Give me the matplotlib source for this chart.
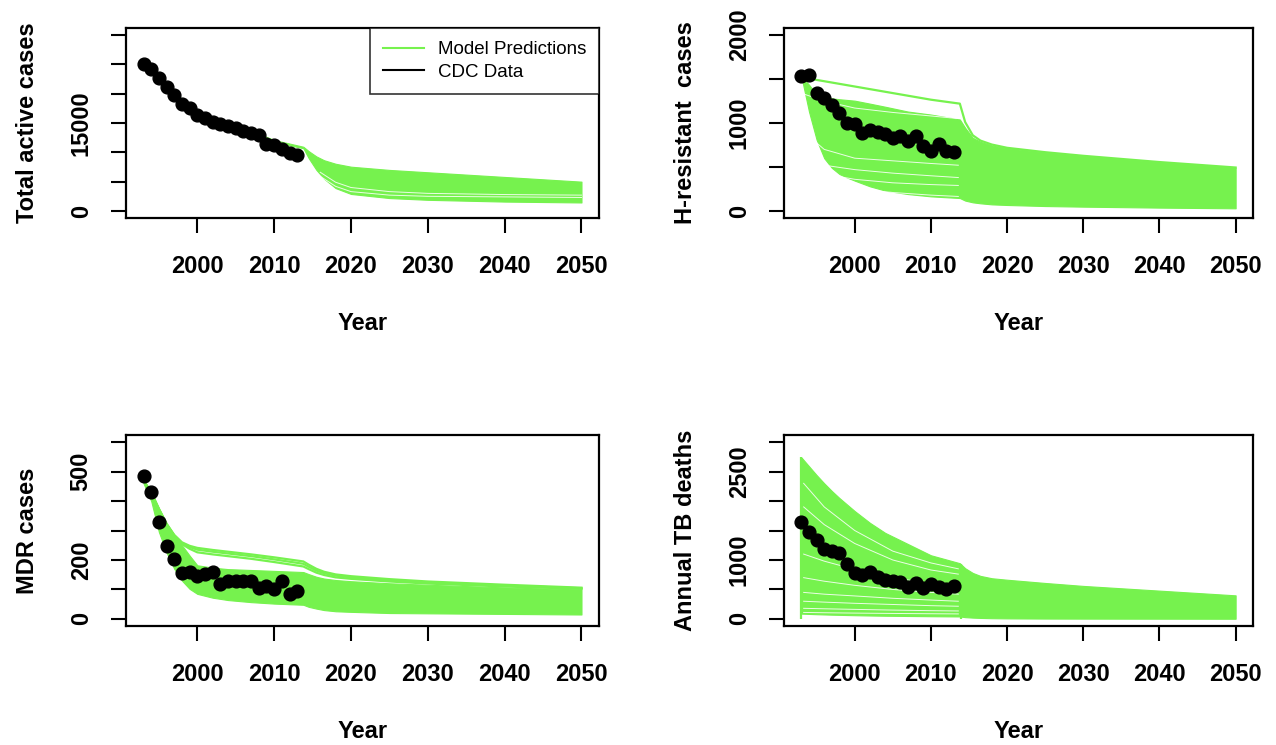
import matplotlib
matplotlib.use("Agg")
import matplotlib.pyplot as plt
from matplotlib.lines import Line2D
from matplotlib.transforms import offset_copy

plt.rcParams['font.family'] = ['Liberation Sans', 'DejaVu Sans']

GREEN = "#76F24E"

# --------------------------
# CDC data (points)
# --------------------------
cdc_years = list(range(1993, 2014))
total_cases = [25100, 24200, 22700, 21200, 19800, 18300, 17500, 16300, 15900, 15100,
               14800, 14500, 14100, 13700, 13300, 12900, 11500, 11200, 10500, 9900, 9600]
hres_cases = [1530, 1550, 1340, 1280, 1200, 1115, 1000, 985, 890, 915,
              900, 870, 835, 850, 790, 850, 740, 685, 765, 685, 665]
mdr_cases = [485, 431, 329, 249, 202, 155, 160, 146, 153, 160,
             118, 130, 127, 127, 127, 106, 113, 101, 128, 83, 94]
tb_deaths = [1636, 1483, 1341, 1193, 1153, 1114, 938, 773, 739, 795,
             716, 659, 636, 625, 545, 602, 523, 585, 545, 500, 557]

# --------------------------
# Model prediction envelopes
# --------------------------
band_years = [1993, 1994, 1995, 1996, 1997, 1998, 1999, 2000, 2002, 2004, 2007,
              2010, 2013.8, 2014.5, 2015.5, 2016.5, 2018, 2020, 2025, 2030, 2040, 2050]

total_hi = [25000, 24100, 22900, 21600, 20300, 19100, 18000, 17100, 15800, 14900, 13700,
            12100, 10950, 10200, 9300, 8650, 8050, 7550, 7000, 6600, 5800, 5000]
total_lo = [24700, 23700, 22400, 21100, 19800, 18600, 17500, 16600, 15400, 14500, 13300,
            11750, 10700, 9000, 7000, 5500, 3900, 2900, 2200, 1900, 1600, 1450]

hres_hi = [1530, 1435, 1322, 1290, 1280, 1270, 1262, 1254, 1220, 1185, 1130,
           1096, 1040, 945, 832, 787, 745, 712, 665, 625, 555, 493]
hres_lo = [1530, 1130, 810, 600, 490, 420, 380, 345, 280, 232, 192,
           166, 147, 118, 98, 87, 75, 68, 56, 49, 38, 30]
hres_top = [1530, 1505, 1490, 1475, 1460, 1445, 1430, 1415, 1385, 1355, 1310,
            1265, 1220, 1010, 860, 800, 755, 718, 668, 627, 556, 494]

mdr_hi = [470, 428, 372, 321, 281, 250, 215, 182, 174, 169, 166,
          163, 159, 152, 143, 137, 132, 128, 121, 116, 107, 100]
mdr_lo = [460, 400, 295, 225, 170, 130, 102, 85, 72, 64, 57,
          52, 48, 41, 35, 30, 26, 24, 20, 19, 17, 15]
mdr_top = [
    [470, 430, 374, 323, 285, 260, 248, 241, 234, 228, 219, 209, 195, 184, 170, 160, 151, 145, 135, 127, 116, 106],
    [470, 429, 373, 322, 283, 257, 244, 235, 228, 222, 213, 202, 187, 177, 164, 155, 147, 141, 131, 124, 113, 104],
    [470, 428, 372, 321, 282, 254, 238, 226, 219, 213, 204, 193, 178, 169, 157, 149, 141, 136, 127, 120, 110, 102],
]

deaths_hi = [2740, 2590, 2440, 2300, 2170, 2050, 1940, 1830, 1630, 1460, 1270,
             1080, 945, 860, 780, 730, 690, 665, 610, 560, 480, 400]
deaths_lo = [90, 85, 80, 76, 72, 69, 66, 63, 58, 54, 50,
             46, 42, 30, 22, 17, 12, 9, 6, 5, 4, 3]
deaths_jump_years = [1993, 2014]
deaths_jump_tops = [2740, 930]

# white gaps between individual model runs
early_gap_years = [1993.3, 1996, 2000, 2005, 2010, 2013.6]
late_gap_years = [2016, 2018, 2020, 2025, 2030, 2040, 2050]
total_gaps = [[6600, 4900, 4000, 3300, 3000, 2800, 2700],
              [5900, 4200, 3300, 2700, 2500, 2400, 2300]]
hres_gaps = [[1330, 1250, 1170, 1120, 1080, 1050],
             [900, 700, 600, 570, 540, 520],
             [760, 520, 470, 430, 400, 380],
             [650, 420, 360, 320, 300, 290],
             [560, 330, 250, 210, 180, 165]]
deaths_gaps = [[2300, 1900, 1500, 1150, 950, 850],
               [1900, 1600, 1280, 1000, 830, 760],
               [1100, 980, 840, 700, 600, 560],
               [700, 640, 570, 500, 450, 420],
               [450, 420, 390, 350, 320, 300],
               [300, 285, 265, 245, 225, 215],
               [180, 172, 162, 150, 140, 135],
               [110, 105, 99, 93, 88, 85]]

# axis ticks / labels
x_ticks = [2000, 2010, 2020, 2030, 2040, 2050]
panels = [
    dict(label="Total active cases", ymax=30000, step=5000, shown=[0, 15000],
         data=total_cases, hi=total_hi, lo=total_lo, extra=[],
         gaps=[(late_gap_years, g) for g in total_gaps]),
    dict(label="H-resistant  cases", ymax=2000, step=500, shown=[0, 1000, 2000],
         data=hres_cases, hi=hres_hi, lo=hres_lo, extra=[hres_top],
         gaps=[(early_gap_years, g) for g in hres_gaps]),
    dict(label="MDR cases", ymax=600, step=100, shown=[0, 200, 500],
         data=mdr_cases, hi=mdr_hi, lo=mdr_lo, extra=mdr_top, gaps=[]),
    dict(label="Annual TB deaths", ymax=3000, step=500, shown=[0, 1000, 2500],
         data=tb_deaths, hi=deaths_hi, lo=deaths_lo, extra=[],
         gaps=[(early_gap_years, g) for g in deaths_gaps]),
]

# box positions in pixels: left, bottom(from top), width, height
W, H = 1276, 745
boxes = [(126, 218, 473, 190), (784, 218, 469, 190),
         (126, 626, 473, 191), (784, 626, 469, 191)]

fig = plt.figure(figsize=(W / 100, H / 100), dpi=100)

for i, p in enumerate(panels):
    l, b, w, h = boxes[i]
    ax = fig.add_axes([l / W, 1 - b / H, w / W, h / H])

    ax.fill_between(band_years, p["lo"], p["hi"], color=GREEN, lw=0.8, ec=GREEN)
    for gx, gy in p["gaps"]:
        ax.plot(gx, gy, color="white", lw=0.7, alpha=0.85)
    for curve in p["extra"]:
        ax.plot(band_years, curve, color=GREEN, lw=1.6)
    if i == 3:
        ax.vlines(deaths_jump_years, 0, deaths_jump_tops, color=GREEN, lw=1.6)
    ax.plot(cdc_years, p["data"], "o", color="black", ms=9.2)

    ymax = p["ymax"]
    ax.set_xlim(1990.72, 2052.28)
    ax.set_ylim(-0.04 * ymax, 1.04 * ymax)
    yt = list(range(0, ymax + 1, p["step"]))
    ax.set_yticks(yt)
    ax.set_yticklabels([str(v) if v in p["shown"] else "" for v in yt])
    ax.set_xticks(x_ticks)
    ax.set_xticklabels([str(v) for v in x_ticks])

    ax.tick_params(direction="out", length=10.5, width=1.5, labelsize=17)
    ax.tick_params(axis="x", pad=16)
    ax.tick_params(axis="y", pad=13.5, labelrotation=90)
    for lab in ax.get_xticklabels() + ax.get_yticklabels():
        lab.set_fontweight("bold")
    for lab in ax.get_yticklabels():
        lab.set_va("center")
    for s in ax.spines.values():
        s.set_linewidth(1.6)

    ax.text(0.5, 0, "Year", transform=offset_copy(ax.transAxes, fig, x=0, y=-105, units="dots"),
            ha="center", va="center", fontsize=17, fontweight="bold")
    ax.text(0, 0.5, p["label"], transform=offset_copy(ax.transAxes, fig, x=-98, y=0, units="dots"),
            ha="center", va="center", rotation=90, fontsize=17, fontweight="bold")

    if i == 0:
        handles = [Line2D([], [], color=GREEN, lw=1.5), Line2D([], [], color="black", lw=1.5)]
        leg = ax.legend(handles, ["Model Predictions", "CDC Data"], loc="upper right",
                        fontsize=13.5, frameon=True, fancybox=False, borderaxespad=0,
                        borderpad=0.7, handlelength=2.2, handletextpad=0.7,
                        labelspacing=0.3)
        leg.get_frame().set_edgecolor("black")
        leg.get_frame().set_linewidth(1.2)

fig.savefig("out.png", dpi=100)
